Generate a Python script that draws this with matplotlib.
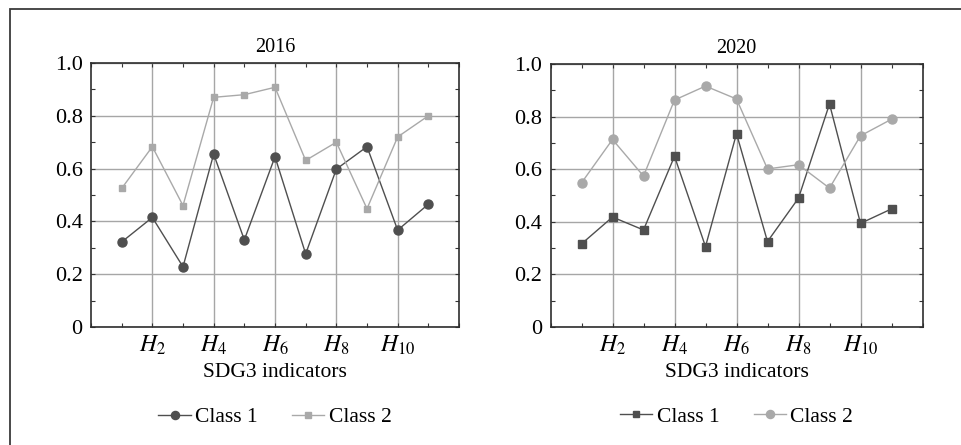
import matplotlib.pyplot as plt
import matplotlib as mpl
from matplotlib.ticker import MultipleLocator, FixedLocator, FuncFormatter

mpl.rcParams['font.family'] = ['Liberation Serif', 'DejaVu Serif']
mpl.rcParams['mathtext.fontset'] = 'stix'

# indicator index H1..H11
indicators = list(range(1, 12))
tick_positions = [2, 4, 6, 8, 10]
tick_labels = ['$H_{2}$', '$H_{4}$', '$H_{6}$', '$H_{8}$', '$H_{10}$']

class1_2016 = [0.322, 0.415, 0.228, 0.655, 0.330, 0.645, 0.277, 0.598, 0.683, 0.367, 0.465]
class2_2016 = [0.525, 0.683, 0.460, 0.870, 0.880, 0.908, 0.631, 0.700, 0.448, 0.720, 0.800]

class1_2020 = [0.316, 0.418, 0.369, 0.649, 0.306, 0.735, 0.325, 0.490, 0.848, 0.394, 0.449]
class2_2020 = [0.548, 0.713, 0.574, 0.863, 0.916, 0.867, 0.601, 0.617, 0.528, 0.727, 0.790]

dark = '#4f4f4f'
light = '#a9a9a9'

fig = plt.figure(figsize=(9.61, 4.45), dpi=100)

# border round the whole figure (runs off the right and bottom edges)
frame = plt.Rectangle((9.5 / 961, -0.05), 1.1, 1 - 8.5 / 445 + 0.05,
                      transform=fig.transFigure, fill=False,
                      edgecolor='#3a3a3a', linewidth=1.3)
fig.patches.append(frame)

ax1 = fig.add_axes([91 / 961, 1 - 327 / 445, 368 / 961, 264 / 445])
ax2 = fig.add_axes([550.5 / 961, 1 - 327 / 445, 372 / 961, 263 / 445])


def style_axis(ax, title):
    ax.set_xlim(0, 12)
    ax.set_ylim(0, 1.0)
    ax.xaxis.set_major_locator(FixedLocator(tick_positions))
    ax.xaxis.set_minor_locator(MultipleLocator(1))
    ax.set_xticklabels(tick_labels, fontsize=17)
    ax.yaxis.set_major_locator(MultipleLocator(0.2))
    ax.yaxis.set_minor_locator(MultipleLocator(0.1))
    ax.yaxis.set_major_formatter(FuncFormatter(lambda v, p: '0' if v == 0 else '%.1f' % v))
    ax.tick_params(which='both', direction='in', top=True, right=True,
                   length=3, width=0.8, color='#333333')
    ax.tick_params(axis='y', labelsize=16, pad=6)
    ax.tick_params(axis='x', pad=5)
    ax.grid(True, which='major', color='#a6a6a6', linewidth=1.0)
    ax.set_axisbelow(True)
    for s in ax.spines.values():
        s.set_color('#2e2e2e')
        s.set_linewidth(1.2)
    ax.set_title(title, fontsize=14.5, pad=8)
    ax.set_xlabel('SDG3 indicators', fontsize=15.5, labelpad=4)


ax1.plot(indicators, class1_2016, color=dark, marker='o', markersize=6.5, linewidth=1.0, label='Class 1')
ax1.plot(indicators, class2_2016, color=light, marker='s', markersize=5, linewidth=1.0, label='Class 2')
style_axis(ax1, '2016')

ax2.plot(indicators, class1_2020, color=dark, marker='s', markersize=5.5, linewidth=1.0, label='Class 1')
ax2.plot(indicators, class2_2020, color=light, marker='o', markersize=6.5, linewidth=1.0, label='Class 2')
style_axis(ax2, '2020')

for ax in (ax1, ax2):
    ax.legend(loc='upper center', bbox_to_anchor=(0.5, -0.23), ncol=2, frameon=False,
              fontsize=15.5, handlelength=1.5, handletextpad=0.2, columnspacing=1.6,
              numpoints=1, markerscale=0.9)

fig.savefig('out.png', dpi=100)
